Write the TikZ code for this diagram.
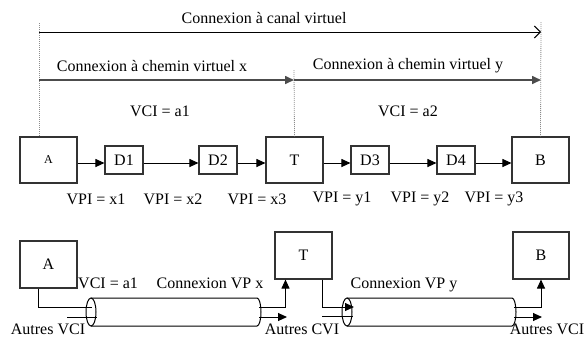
\documentclass[tikz,border=0pt]{standalone}
\usepackage{fontspec}
\setmainfont{Liberation Serif}
\usetikzlibrary{arrows.meta}
\tikzset{
  txt/.style={inner sep=0pt, font=\fontsize{16}{19}\selectfont},
  bigbox/.style={draw=black!80, line width=1.1pt, minimum width=57pt, minimum height=46pt, inner sep=0pt, font=\fontsize{16}{19}\selectfont},
  smallbox/.style={draw=black!80, line width=1.1pt, minimum width=38pt, minimum height=28pt, inner sep=0pt, font=\fontsize{16}{19}\selectfont},
  farr/.style={line width=1pt, -{Triangle[length=9pt,width=8pt]}},
  garr/.style={line width=1.6pt, draw=black!70, -{Triangle[length=9pt,width=8pt]}},
  oarr/.style={line width=1pt, -{Straight Barb[length=6pt,width=12pt]}},
  dots/.style={draw=black!45, line width=0.8pt, dash pattern=on 1pt off 1pt},
  plain/.style={line width=1pt},
}
\begin{document}
\begin{tikzpicture}[x=1pt,y=-1pt]
\useasboundingbox (0,0) rectangle (586,338);

% ---- top: boxes row
\node[bigbox, font=\fontsize{12}{14}\selectfont] (A) at (48.5,160) {A};
\node[smallbox] (D1) at (124,160) {D1};
\node[smallbox] (D2) at (218,160) {D2};
\node[bigbox] (T) at (294.5,160) {T};
\node[smallbox] (D3) at (370,160) {D3};
\node[smallbox] (D4) at (456,160) {D4};
\node[bigbox] (B) at (540.5,160) {B};

\foreach \u/\v in {A/D1, D1/D2, D2/T, T/D3, D3/D4, D4/B}
  \draw[farr] ([yshift=-3pt]\u.east) -- ([yshift=-3pt]\v.west);

\node[txt] (l1) at (96,199) {VPI = x1};
\node[txt] (l2) at (173,199) {VPI = x2};
\node[txt] (l3) at (257,199) {VPI = x3};
\node[txt] (l4) at (342,199) {VPI = y1};
\node[txt] (l5) at (420,199) {VPI = y2};
\node[txt] (l6) at (494,199) {VPI = y3};

% ---- top: connections
\coordinate (dl) at (39,23);
\coordinate (dm) at (294,70);
\coordinate (dr) at (541,22);
\draw[dots] (dl) -- (dl |- A.north);
\draw[dots] (dm) -- (T.north);
\draw[dots] (dr) -- (B.north);

\coordinate (c1) at (39,32);
\coordinate (c2) at (541,32);
\draw[oarr] (c1) -- (c2);
\node[txt] (tcv) at (264,18) {Connexion à canal virtuel};

\coordinate (p1) at (39,80);
\coordinate (p2) at (294,80);
\coordinate (p3) at (541,80);
\draw[garr] (p1) -- (p2);
\draw[garr] (p2) -- (p3);
\node[txt] (tcx) at (152,66) {Connexion à chemin virtuel x};
\node[txt] (tcy) at (408,66) {Connexion à chemin virtuel y};

\node[txt] (va1) at (160,111) {VCI = a1};
\node[txt] (va2) at (408,111) {VCI = a2};

% ---- bottom
\node[bigbox, minimum height=47pt] (A2) at (48.5,264.5) {A};
\node[bigbox, minimum height=47pt] (T2) at (303.5,255.5) {T};
\node[bigbox, minimum height=47pt, minimum width=56pt] (B2) at (541,255.5) {B};

% tube 1
\draw[plain] (91,298) -- (257,298) arc[start angle=-90, end angle=90, x radius=4, y radius=14] -- (91,326);
\draw[plain] (91,312) ellipse[x radius=5, y radius=14];
% tube 2
\draw[plain] (347,298) -- (512,298) arc[start angle=-90, end angle=90, x radius=4, y radius=14] -- (347,326);
\draw[plain] (347,312) ellipse[x radius=5, y radius=14];

% A2 into tube 1
\coordinate (a2in) at (92,307);
\draw[plain] ([xshift=-10pt]A2.south) |- (a2in);
\coordinate (o1s) at (67,317);
\coordinate (o1e) at (97,317);
\draw[plain] (o1s) -- (o1e);

% tube 1 out
\coordinate (t1u) at (259,307);
\coordinate (t1l) at (259,317);
\coordinate (t1le) at (287,317);
\draw[farr] (t1u) -| ([xshift=-18pt]T2.south);
\draw[farr] (t1l) -- (t1le);

% T2 into tube 2
\coordinate (t2in) at (354,307);
\draw[farr] ([xshift=18.5pt]T2.south) |- (t2in);
\coordinate (o2s) at (322,316);
\coordinate (o2e) at (353,316);
\draw[plain] (o2s) -- (o2e);

% tube 2 out
\coordinate (t2u) at (514,307);
\coordinate (t2l) at (514,317);
\coordinate (t2le) at (542,317);
\draw[farr] (t2u) -| (B2.south);
\draw[farr] (t2l) -- (t2le);

\node[txt, anchor=west] (vca) at (78,283) {VCI = a1};
\node[txt] (cvx) at (210,283) {Connexion VP x};
\node[txt] (cvy) at (404,285) {Connexion VP y};
\node[txt] (av1) at (48,329) {Autres VCI};
\node[txt] (acv) at (302,329) {Autres CVI};
\node[txt] (av2) at (547,329) {Autres VCI};
\end{tikzpicture}
\end{document}
